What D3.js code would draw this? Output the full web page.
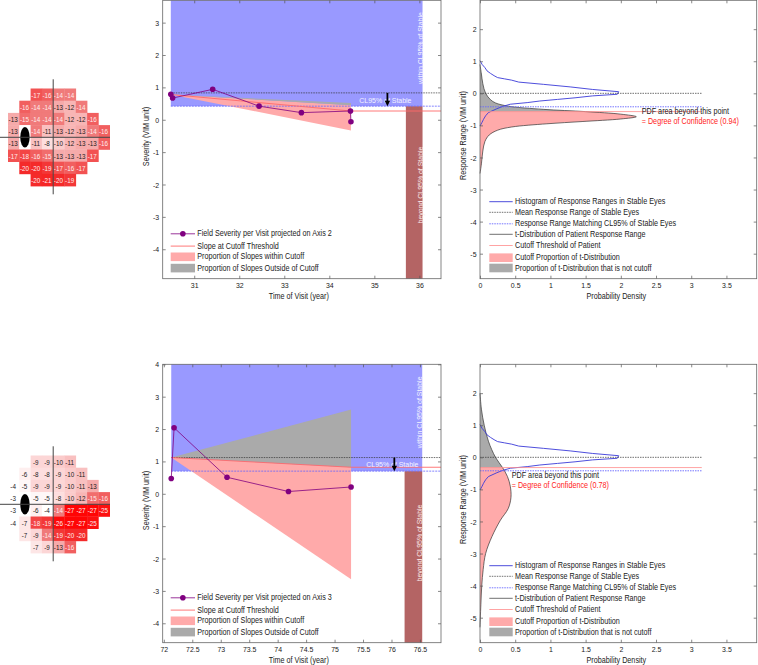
<!DOCTYPE html>
<html><head><meta charset="utf-8">
<script src="https://cdn.jsdelivr.net/npm/d3@7/dist/d3.min.js"></script>
<style>
body{margin:0;background:#fff;}
svg{display:block;}
text{font-family:"Liberation Sans",Arial,Helvetica,sans-serif;}
</style></head>
<body>
<svg id="chart" width="758" height="665"></svg>
<script>
// ================= DATA =================
// Visual fields (deviation values), rows top -> bottom; first column of each row
const fieldRowStart = [2, 1, 0, 0, 0, 0, 1, 2];
const field1Values = [
  [-17, -16, -14, -14],
  [-16, -14, -14, -13, -12, -14],
  [-13, -15, -14, -14, -14, -12, -12, -16],
  [-13, null, -14, -11, -13, -12, -13, -14, -16],
  [-13, null, -11, -8, -10, -12, -13, -13, -16],
  [-17, -18, -16, -15, -13, -13, -13, -17],
  [-20, -20, -19, -17, -16, -17],
  [-20, -21, -20, -19]
];
const field2Values = [
  [-9, -9, -10, -11],
  [-6, -8, -8, -9, -10, -11],
  [-4, -5, -9, -9, -9, -10, -11, -13],
  [-3, null, -5, -5, -8, -10, -12, -15, -16],
  [-3, null, -6, -4, -14, -27, -27, -27, -25],
  [-4, -7, -18, -19, -26, -27, -27, -25],
  [-7, -9, -14, -19, -20, -20],
  [-7, -9, -13, -16]
];

// Middle panels: field severity per visit
const visitTime1 = [30.48, 30.52, 31.41, 32.44, 33.38, 34.47, 34.48];
const severity1  = [0.79, 0.67, 0.94, 0.42, 0.22, 0.27, -0.06];
const visitTime2 = [72.13, 72.18, 73.11, 74.19, 75.29];
const severity2  = [0.47, 2.04, 0.51, 0.07, 0.21];

// Slope wedges [start, end]
const wedge1Time  = [30.48, 34.48];
const wedge1Upper = [0.78, 0.52];
const wedge1Split = [0.78, 0.45];
const wedge1Lower = [0.78, -0.33];
const cutoffSlope1 = [0.78, 0.27];
const wedge2Time  = [72.13, 75.29];
const wedge2Upper = [1.12, 2.60];
const wedge2Split = [1.12, 0.82];
const wedge2Lower = [1.12, -2.64];
const cutoffSlope2 = [1.12, 0.82];

// Stable-eye reference levels
const meanStableSeverity = [0.83, 1.12];
const cl95StableSeverity = [0.42, 0.70];
const withinTime1 = [30.48, 36.07], beyondTime1 = [35.70, 36.07], arrowTime1 = 35.29;
const withinTime2 = [72.13, 76.54], beyondTime2 = [76.23, 76.54], arrowTime2 = 76.05;

// Axis domains and ticks
const midXDomain1 = [30.3, 36.48], midYDomain1 = [-4.91, 3.69];
const midXDomain2 = [71.98, 76.87], midYDomain2 = [-4.6, 4.0];
const midXTicks1 = [31, 32, 33, 34, 35, 36];
const midYTicks1 = [-4, -3, -2, -1, 0, 1, 2, 3];
const midXTicks2 = [72, 72.5, 73, 73.5, 74, 74.5, 75, 75.5, 76, 76.5];
const midYTicks2 = [-4, -3, -2, -1, 0, 1, 2, 3, 4];
const rightXDomain = [0, 3.93], rightYDomain = [-5.78, 2.9];
const rightXTicks = [0, 0.5, 1, 1.5, 2, 2.5, 3, 3.5];
const rightYTicks = [-5, -4, -3, -2, -1, 0, 1, 2];

// Right panels: histogram of stable eyes (response range, density)
const histRange   = [1.02, 0.9, 0.8, 0.7, 0.62, 0.55, 0.49, 0.45, 0.41, 0.35, 0.28, 0.2, 0.12, 0.05, -0.03, -0.08, -0.14, -0.19, -0.24, -0.29, -0.34, -0.41, -0.48, -0.6, -0.7, -0.81, -0.9, -1.02];
const histDensity = [0, 0.03, 0.07, 0.1, 0.15, 0.2, 0.25, 0.35, 0.45, 0.55, 0.9, 1.28, 1.6, 1.97, 1.95, 1.6, 1.35, 1.1, 0.85, 0.67, 0.43, 0.32, 0.24, 0.12, 0.08, 0.05, 0.03, 0];
// t-distributions of patient response range
const tdist1Range   = [0.9, 0.6, 0.3, 0.0, -0.2, -0.3, -0.4, -0.5, -0.57, -0.65, -0.73, -0.8, -0.88, -0.95, -1.05, -1.15, -1.3, -1.5, -1.8, -2.2, -2.5];
const tdist1Density = [0, 0.02, 0.04, 0.08, 0.15, 0.22, 0.4, 0.9, 1.5, 2.0, 2.22, 2.0, 1.45, 0.95, 0.45, 0.25, 0.13, 0.07, 0.04, 0.02, 0];
const tdist2Range   = [2.0, 1.5, 1.0, 0.5, 0.0, -0.32, -0.6, -0.9, -1.25, -1.6, -1.96, -2.47, -3.0, -3.5, -4.0, -4.6, -5.3];
const tdist2Density = [0, 0.02, 0.06, 0.12, 0.22, 0.32, 0.39, 0.43, 0.44, 0.4, 0.29, 0.17, 0.08, 0.045, 0.025, 0.012, 0];
const meanResponse = 0, cl95Response = -0.42, refLineEnd = 3.15;
const patientCutoff = [-0.57, -0.32];
const degreeOfConfidence = ["0.94", "0.78"];

// Text
const midLegend = ["Field Severity per Visit projected on Axis ", "Slope at Cutoff Threshold", "Proportion of Slopes within Cutoff", "Proportion of Slopes Outside of Cutoff"];
const rightLegend = ["Histogram of Response Ranges in Stable Eyes", "Mean Response Range of Stable Eyes", "Response Range Matching CL95% of Stable Eyes", "t-Distribution of Patient Response Range", "Cutoff Threshold of Patient", "Cutoff Proportion of t-Distribution", "Proportion of t-Distribution that is not cutoff"];

// ================= DRAWING =================
const svg = d3.select("#chart");
svg.append("rect").attr("width", 758).attr("height", 665).attr("fill", "#fff");
const SX = 0.87;
const PINK = "#ffaaaa", GREY = "#aaaaaa", BLUE_REGION = "#9999ff", BROWN = "#b46464", PURPLE = "#800080";

function label(g, x, y, s, o = {}) {
  return g.append("text")
    .attr("transform", `translate(${x},${y})` + (o.rot ? ` rotate(${o.rot})` : "") + ` scale(${o.sx ?? SX},1)`)
    .attr("text-anchor", o.anchor || "start")
    .attr("dominant-baseline", "central")
    .attr("font-size", o.size || 8)
    .attr("fill", o.fill || "#222")
    .text(s);
}

function drawField(values, lineY) {
  const g = svg.append("g");
  const colX = d3.scaleLinear().domain([0, 9]).range([8, 109.7]);
  const rowY = d3.scaleLinear().domain([-4, 4]).range([lineY - 48.8, lineY + 48.8]);
  const color = d3.scaleLinear().domain([-4, -9, -13, -14, -20, -27])
    .range(["#ffffff", "#fcd6d6", "#f6aaaa", "#f07a7a", "#f42a2a", "#ff0505"]).clamp(true);
  values.forEach((row, r) => row.forEach((v, i) => {
    const c = fieldRowStart[r] + i;
    const x0 = colX(c), y0 = rowY(r - 4);
    g.append("rect").attr("x", x0).attr("y", y0)
      .attr("width", colX(c + 1) - x0 + 0.3).attr("height", rowY(r - 3) - y0 + 0.3)
      .attr("fill", v == null ? "#fff" : color(v));
    if (v != null) {
      label(g, (x0 + colX(c + 1)) / 2 - 0.5, (y0 + rowY(r - 3)) / 2 + 0.3, String(v),
        {anchor: "middle", size: 7, sx: 0.9, fill: v <= -14 ? "#ffecec" : "#1a1a1a"});
    }
  }));
  g.append("ellipse").attr("cx", (colX(1) + colX(2)) / 2).attr("cy", lineY).attr("rx", 4.7).attr("ry", 10.3).attr("fill", "#000");
  g.append("line").attr("x1", colX(4)).attr("x2", colX(4)).attr("y1", lineY - 58).attr("y2", lineY + 57).attr("stroke", "#444").attr("stroke-width", 1);
  g.append("line").attr("x1", 0).attr("x2", 110).attr("y1", lineY).attr("y2", lineY).attr("stroke", "#444").attr("stroke-width", 1);
}

function frame(g, x, y, xt, yt) {
  const [x0, x1] = x.range(), [yb, yt0] = y.range();
  const fmt = d => String(d);
  const styleAx = sel => {
    sel.select(".domain").remove();
    sel.selectAll("line").attr("stroke", "#555").attr("stroke-width", 0.7);
    sel.selectAll("text").attr("font-size", 8).attr("fill", "#222").attr("transform", `scale(${SX},1)`);
  };
  g.append("g").attr("transform", `translate(0,${yb})`).call(d3.axisBottom(x).tickValues(xt).tickFormat(fmt).tickSizeInner(-3).tickSizeOuter(0).tickPadding(3.5)).call(styleAx);
  g.append("g").attr("transform", `translate(0,${yt0})`).call(d3.axisTop(x).tickValues(xt).tickFormat("").tickSizeInner(-3).tickSizeOuter(0)).call(styleAx);
  g.append("g").attr("transform", `translate(${x0},0)`).call(d3.axisLeft(y).tickValues(yt).tickFormat(fmt).tickSizeInner(-3).tickSizeOuter(0).tickPadding(4)).call(styleAx);
  g.append("g").attr("transform", `translate(${x1},0)`).call(d3.axisRight(y).tickValues(yt).tickFormat("").tickSizeInner(-3).tickSizeOuter(0)).call(styleAx);
  g.append("rect").attr("x", x0).attr("y", yt0).attr("width", x1 - x0).attr("height", yb - yt0)
    .attr("fill", "none").attr("stroke", "#666").attr("stroke-width", 0.8);
}

function drawMid(o) {
  const g = svg.append("g");
  const x = d3.scaleLinear().domain(o.xDomain).range([162.7, 441]);
  const y = d3.scaleLinear().domain(o.yDomain).range([o.bottom, o.top]);
  const [x0, x1] = x.range(), [yb, yt] = y.range();
  const yc = y(o.cl95), ym = y(o.mean);
  g.append("rect").attr("x", x(o.within[0])).attr("y", yt).attr("width", x(o.within[1]) - x(o.within[0])).attr("height", yc - yt).attr("fill", BLUE_REGION);
  g.append("rect").attr("x", x(o.beyond[0])).attr("y", yc).attr("width", x(o.beyond[1]) - x(o.beyond[0])).attr("height", yb - yc).attr("fill", BROWN);
  const poly = d3.line().x(d => x(d[0])).y(d => y(d[1]));
  const t = o.wTime;
  g.append("path").attr("d", poly([[t[0], o.wSplit[0]], [t[1], o.wSplit[1]], [t[1], o.wLower[1]], [t[0], o.wLower[0]]]) + "Z").attr("fill", PINK);
  g.append("path").attr("d", poly([[t[0], o.wUpper[0]], [t[1], o.wUpper[1]], [t[1], o.wSplit[1]], [t[0], o.wSplit[0]]]) + "Z").attr("fill", GREY);
  // reference lines
  g.append("line").attr("x1", x(o.within[0])).attr("x2", x1).attr("y1", ym).attr("y2", ym).attr("stroke", "#333").attr("stroke-width", 0.7).attr("stroke-dasharray", "1.5,1");
  g.append("line").attr("x1", x(o.within[0])).attr("x2", x1).attr("y1", yc).attr("y2", yc).attr("stroke", "#6666ff").attr("stroke-width", 0.8).attr("stroke-dasharray", "2,1");
  // cutoff slope line
  g.append("path").attr("d", poly([[t[0], o.slope[0]], [t[1], o.slope[1]], [o.xDomain[1], o.slope[1]]])).attr("fill", "none").attr("stroke", "#ff6a6a").attr("stroke-width", 0.9);
  // data
  const pts = o.time.map((tt, i) => [tt, o.sev[i]]);
  g.append("path").attr("d", poly(pts)).attr("fill", "none").attr("stroke", PURPLE).attr("stroke-width", 0.8);
  g.selectAll(null).data(pts).join("circle").attr("cx", d => x(d[0])).attr("cy", d => y(d[1])).attr("r", 2.8).attr("fill", PURPLE);
  // annotations
  const ax = x(o.arrow);
  label(g, ax - 2, (ym + yc) / 2 + 0.5, "CL95% of Stable", {anchor: "middle", fill: "#f4f4ff", size: 8});
  g.append("line").attr("x1", ax).attr("x2", ax).attr("y1", ym).attr("y2", yc - 4).attr("stroke", "#000").attr("stroke-width", 1.8);
  g.append("path").attr("d", `M${ax - 2.7},${yc - 5.5}L${ax + 2.7},${yc - 5.5}L${ax},${yc}Z`).attr("fill", "#000");
  const tx = x(o.within[1]) - 2.7;
  label(g, tx, (yt + ym) / 2 + 1.5, "within CL95% of Stable", {anchor: "middle", rot: -90, fill: "#f4f4ff", size: 8});
  label(g, tx, o.beyondTextY, "beyond CL95% of Stable", {anchor: "middle", rot: -90, fill: "#fbe8e8", size: 8});
  // legend
  const lx0 = x0 + 8, lx1 = x0 + 32.3, ltx = x0 + 34.6;
  const ly = [233.5, 245.8, 256.5, 267.8].map(v => yt + v);
  g.append("line").attr("x1", lx0).attr("x2", lx1).attr("y1", ly[0]).attr("y2", ly[0]).attr("stroke", PURPLE).attr("stroke-width", 0.8);
  g.append("circle").attr("cx", (lx0 + lx1) / 2).attr("cy", ly[0]).attr("r", 2.8).attr("fill", PURPLE);
  g.append("line").attr("x1", lx0).attr("x2", lx1).attr("y1", ly[1]).attr("y2", ly[1]).attr("stroke", "#ff6a6a").attr("stroke-width", 0.9);
  g.append("rect").attr("x", lx0).attr("y", ly[2] - 4.3).attr("width", lx1 - lx0).attr("height", 8.6).attr("fill", PINK);
  g.append("rect").attr("x", lx0).attr("y", ly[3] - 4.3).attr("width", lx1 - lx0).attr("height", 8.6).attr("fill", GREY);
  [midLegend[0] + o.axisNo, midLegend[1], midLegend[2], midLegend[3]].forEach((s, i) => label(g, ltx, ly[i], s, {size: 8.3}));
  frame(g, x, y, o.xTicks, o.yTicks);
  label(g, (x0 + x1) / 2 - 3, yb + 17.5, "Time of Visit (year)", {anchor: "middle", size: 8.3});
  label(g, 146, (yt + yb) / 2 - 3, "Severity (VIM unit)", {anchor: "middle", rot: -90, size: 8.3});
}

function drawRight(o) {
  const g = svg.append("g");
  const x = d3.scaleLinear().domain(rightXDomain).range([480, 756.7]);
  const y = d3.scaleLinear().domain(rightYDomain).range([o.bottom, o.top]);
  const [x0, x1] = x.range(), [yb, yt] = y.range();
  const yc = y(o.cutoff);
  const tpts = o.tRange.map((r, i) => [r, o.tDens[i]]);
  const area = d3.area().curve(d3.curveCatmullRom.alpha(0.5)).y(d => y(d[0])).x0(x(0)).x1(d => x(d[1]));
  const line = d3.line().curve(d3.curveCatmullRom.alpha(0.5)).x(d => x(d[1])).y(d => y(d[0]));
  const cp = "clipP" + o.id, cg = "clipG" + o.id;
  const defs = g.append("defs");
  defs.append("clipPath").attr("id", cp).append("rect").attr("x", x0).attr("y", yc).attr("width", x1 - x0).attr("height", yb - yc);
  defs.append("clipPath").attr("id", cg).append("rect").attr("x", x0).attr("y", yt).attr("width", x1 - x0).attr("height", yc - yt);
  g.append("path").attr("d", area(tpts)).attr("fill", PINK).attr("clip-path", `url(#${cp})`);
  g.append("path").attr("d", area(tpts)).attr("fill", GREY).attr("clip-path", `url(#${cg})`);
  g.append("path").attr("d", line(tpts)).attr("fill", "none").attr("stroke", "#333").attr("stroke-width", 0.7);
  // histogram
  const hpts = histRange.map((r, i) => [r, histDensity[i]]);
  g.append("path").attr("d", d3.line().x(d => x(d[1])).y(d => y(d[0]))(hpts)).attr("fill", "none").attr("stroke", "#3a3ad8").attr("stroke-width", 0.9);
  // reference lines
  const hl = (v, col, dash, w) => g.append("line").attr("x1", x(0)).attr("x2", x(refLineEnd)).attr("y1", y(v)).attr("y2", y(v)).attr("stroke", col).attr("stroke-width", w).attr("stroke-dasharray", dash);
  hl(o.cutoff, "#ff8c8c", null, 0.8);
  hl(meanResponse, "#333", "1.5,1", 0.7);
  hl(cl95Response, "#6666ff", "1.5,1", 0.9);
  // annotation
  label(g, o.noteX, o.noteY, "PDF area beyond this point", {size: 8.3});
  label(g, o.noteX, o.noteY + 9.6, "= Degree of Confidence (" + o.conf + ")", {size: 8.3, fill: "#ff1a1a"});
  // legend
  const lx0 = x0 + 9.3, lx1 = x0 + 32.7, ltx = x0 + 35;
  const ly = [201.4, 212, 223.5, 234, 245.2, 257.4, 267.7].map(v => yt + v);
  const ll = (i, col, dash, w) => g.append("line").attr("x1", lx0).attr("x2", lx1).attr("y1", ly[i]).attr("y2", ly[i]).attr("stroke", col).attr("stroke-width", w).attr("stroke-dasharray", dash);
  ll(0, "#3a3ad8", null, 0.9);
  ll(1, "#333", "1.5,1", 0.7);
  ll(2, "#6666ff", "1.5,1", 0.9);
  ll(3, "#333", null, 0.7);
  ll(4, "#ff8c8c", null, 0.8);
  g.append("rect").attr("x", lx0).attr("y", ly[5] - 4.3).attr("width", lx1 - lx0).attr("height", 8.6).attr("fill", PINK);
  g.append("rect").attr("x", lx0).attr("y", ly[6] - 4.3).attr("width", lx1 - lx0).attr("height", 8.6).attr("fill", GREY);
  rightLegend.forEach((s, i) => label(g, ltx, ly[i], s, {size: 8.3}));
  frame(g, x, y, rightXTicks, rightYTicks);
  label(g, (x0 + x1) / 2 - 2, yb + 17.5, "Probability Density", {anchor: "middle", size: 8.3});
  label(g, 463, (yt + yb) / 2 - 4, "Response Range (VIM unit)", {anchor: "middle", rot: -90, size: 8.3});
}

drawField(field1Values, 137.3);
drawField(field2Values, 504.3);

drawMid({top: 0.3, bottom: 278.7, xDomain: midXDomain1, yDomain: midYDomain1, xTicks: midXTicks1, yTicks: midYTicks1,
  time: visitTime1, sev: severity1, wTime: wedge1Time, wUpper: wedge1Upper, wSplit: wedge1Split, wLower: wedge1Lower, slope: cutoffSlope1,
  mean: meanStableSeverity[0], cl95: cl95StableSeverity[0], within: withinTime1, beyond: beyondTime1, arrow: arrowTime1,
  beyondTextY: 185, axisNo: "2"});
drawMid({top: 364.3, bottom: 642.7, xDomain: midXDomain2, yDomain: midYDomain2, xTicks: midXTicks2, yTicks: midYTicks2,
  time: visitTime2, sev: severity2, wTime: wedge2Time, wUpper: wedge2Upper, wSplit: wedge2Split, wLower: wedge2Lower, slope: cutoffSlope2,
  mean: meanStableSeverity[1], cl95: cl95StableSeverity[1], within: withinTime2, beyond: beyondTime2, arrow: arrowTime2,
  beyondTextY: 543, axisNo: "3"});

drawRight({id: 1, top: 0.3, bottom: 278.7, tRange: tdist1Range, tDens: tdist1Density, cutoff: patientCutoff[0], conf: degreeOfConfidence[0], noteX: 641.7, noteY: 111.7});
drawRight({id: 2, top: 364.3, bottom: 642.7, tRange: tdist2Range, tDens: tdist2Density, cutoff: patientCutoff[1], conf: degreeOfConfidence[1], noteX: 511.7, noteY: 475.3});
</script>
</body></html>
